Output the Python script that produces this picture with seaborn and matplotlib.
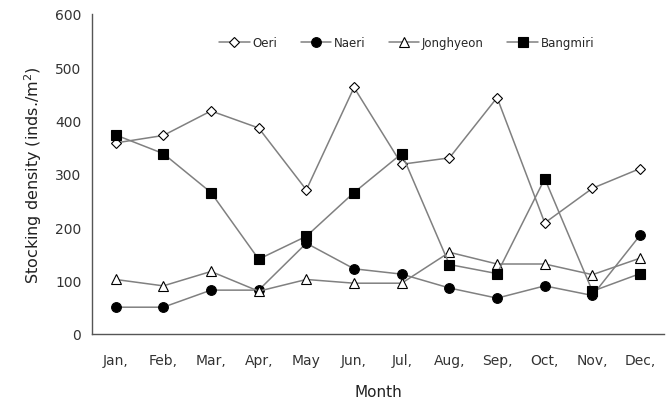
import numpy as np
import pandas as pd
import seaborn as sns
import matplotlib.pyplot as plt

# 데이터
months = ['Jan,', 'Feb,', 'Mar,', 'Apr,', 'May', 'Jun,', 'Jul,', 'Aug,', 'Sep,', 'Oct,', 'Nov,', 'Dec,']
oeri = [358, 372, 418, 386, 270, 462, 318, 330, 443, 208, 273, 310]
naeri = [50, 50, 82, 82, 170, 122, 112, 86, 67, 90, 72, 185]
jonghyeon = [102, 90, 117, 80, 102, 95, 95, 153, 131, 131, 111, 142]
bangmiri = [373, 338, 265, 140, 183, 265, 338, 130, 113, 291, 80, 113]

sns.set_style('white')
plt.rcParams['font.family'] = ['DejaVu Sans']

fig = plt.figure(figsize=(6.7, 4.02), dpi=100)
ax = fig.add_axes([0.137, 0.167, 0.854, 0.796])

x = np.arange(len(months))
line_col = '#808080'
series = [
    ('Oeri', oeri, 'D', 'white', 5),
    ('Naeri', naeri, 'o', 'black', 7),
    ('Jonghyeon', jonghyeon, '^', 'white', 7),
    ('Bangmiri', bangmiri, 's', 'black', 7),
]
for name, vals, mk, fc, ms in series:
    sns.lineplot(x=x, y=vals, ax=ax, color=line_col, linewidth=1.1,
                 marker=mk, markersize=ms, markerfacecolor=fc,
                 markeredgecolor='black', markeredgewidth=0.8, label=name)

ax.set_xlim(-0.5, 11.5)
ax.set_ylim(0, 600)
ax.set_yticks(range(0, 601, 100))
ax.set_xticks(x)
ax.set_xticklabels(months)
ax.set_xticks(np.arange(0.5, 12, 1), minor=True)
ax.tick_params(axis='x', which='major', length=0, pad=14, labelsize=10, labelcolor='#333333')
ax.tick_params(axis='x', which='minor', direction='in', length=5, color='#555555')
ax.tick_params(axis='y', direction='out', length=4, color='#555555', labelsize=10, labelcolor='#333333')

for s in ['top', 'right']:
    ax.spines[s].set_visible(False)
for s in ['left', 'bottom']:
    ax.spines[s].set_color('#555555')
    ax.spines[s].set_linewidth(1.0)

ax.set_ylabel('Stocking density (inds./m$^2$)', fontsize=11.5, color='#222222', labelpad=8)
ax.set_xlabel('Month', fontsize=11, color='#222222', labelpad=12)

ax.legend(loc='upper center', bbox_to_anchor=(0.55, 0.965), ncol=4, frameon=False,
          fontsize=8.5, handlelength=2.6, columnspacing=2.0, handletextpad=0.2)

plt.savefig('out.png', dpi=100)
